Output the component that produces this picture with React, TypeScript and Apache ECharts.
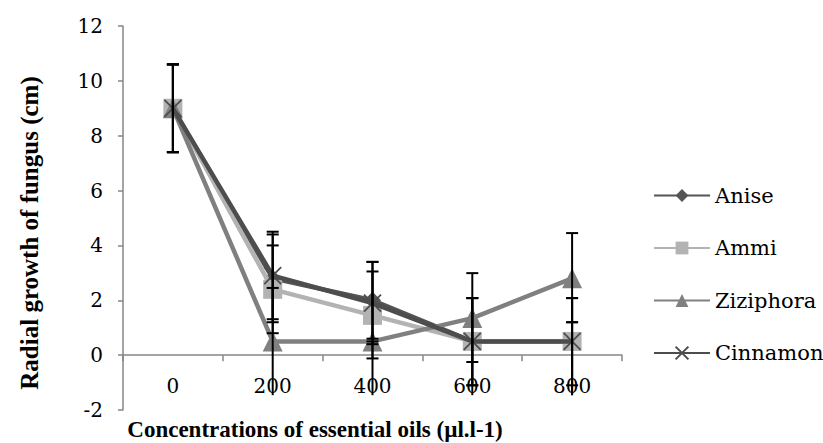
import React, { useEffect, useRef } from "react";
import * as echarts from "echarts";

const categories = ["0", "200", "400", "600", "800"];
const seriesNames = ["Anise", "Ammi", "Ziziphora", "Cinnamon"];
const anise = [9, 2.8, 2.0, 0.5, 0.5];
const ammi = [9, 2.4, 1.45, 0.5, 0.5];
const ziziphora = [9, 0.5, 0.5, 1.35, 2.8];
const cinnamon = [9, 2.9, 1.9, 0.5, 0.5];
// error bar ends [low, high] per point
const aniseErr = [[7.4, 10.6], [1.2, 4.4], [0.6, 3.4], [-1.1, 2.08], [-1.1, 2.08]];
const ammiErr = [[7.4, 10.6], [0.8, 4.0], [-0.12, 3.05], [-1.46, 2.08], [-1.46, 1.2]];
const ziziphoraErr = [[7.4, 10.6], [-1.46, 2.45], [-1.46, 0.5], [-0.25, 2.99], [1.2, 4.45]];
const cinnamonErr = [[7.4, 10.6], [1.31, 4.5], [0.4, 3.4], [-1.1, 2.08], [-1.46, 2.08]];
const yTicks = { min: -2, max: 12, interval: 2 };

const FONT = "DejaVu Serif";

export default function App() {
  const ref = useRef<HTMLDivElement>(null);
  useEffect(() => {
    document.body.style.margin = "0";
    const chart = echarts.init(ref.current!, null, { renderer: "svg" });
    const values = [anise, ammi, ziziphora, cinnamon];
    const errs = [aniseErr, ammiErr, ziziphoraErr, cinnamonErr];
    const lineColors = ["#555555", "#b3b3b3", "#808080", "#4d4d4d"];
    const symbols = ["diamond", "rect", "triangle", "path://M0,0L10,10M10,0L0,10"];
    const sizes = [17, 19, 20, 17];
    const errData: number[][] = [];
    errs.forEach((arr) => arr.forEach((e, i) => errData.push([i, e[0], e[1]])));

    const lineSeries = values.map((v, k) => ({
      name: seriesNames[k],
      type: "line",
      data: v,
      symbol: symbols[k],
      symbolSize: sizes[k],
      z: 2 + k,
      lineStyle: { color: lineColors[k], width: 4.5 },
      itemStyle:
        k === 3
          ? { color: "rgba(0,0,0,0)", borderColor: "#4d4d4d", borderWidth: 1.8 }
          : { color: lineColors[k], borderWidth: 0 },
      emphasis: { disabled: true },
    }));

    chart.setOption({
      animation: false,
      textStyle: { fontFamily: FONT },
      grid: { left: 123, top: 26, width: 499, height: 384, containLabel: false },
      legend: {
        orient: "vertical",
        left: 648,
        top: 180,
        itemWidth: 56,
        itemHeight: 16,
        itemGap: 31.5,
        textStyle: { fontFamily: FONT, fontSize: 21, color: "#000" },
        data: seriesNames,
      },
      xAxis: {
        type: "category",
        data: categories,
        boundaryGap: true,
        axisLine: { onZero: true, lineStyle: { color: "#868686", width: 1.5 } },
        axisTick: { show: true, length: 6, lineStyle: { color: "#868686", width: 1.5 } },
        axisLabel: { fontFamily: FONT, fontSize: 20, color: "#000", margin: -34 },
        splitLine: { show: false },
      },
      yAxis: {
        type: "value",
        min: yTicks.min,
        max: yTicks.max,
        interval: yTicks.interval,
        axisLine: { show: true, lineStyle: { color: "#868686", width: 1.5 } },
        axisTick: { show: true, length: 5, lineStyle: { color: "#868686", width: 1.5 } },
        axisLabel: { fontFamily: FONT, fontSize: 20, color: "#000", margin: 20 },
        splitLine: { show: false },
      },
      graphic: [
        {
          type: "text",
          x: 29,
          y: 233,
          rotation: Math.PI / 2,
          style: {
            text: "Radial growth of fungus (cm)",
            font: `bold 25px 'Liberation Serif'`,
            fill: "#000",
            align: "center",
            verticalAlign: "middle",
          },
        },
        {
          type: "text",
          x: 315,
          y: 429,
          style: {
            text: "Concentrations of essential oils (µl.l-1)",
            font: `bold 23px 'Liberation Serif'`,
            fill: "#000",
            align: "center",
            verticalAlign: "middle",
          },
        },
      ],
      series: [
        ...lineSeries,
        {
          type: "custom",
          name: "errors",
          z: 10,
          silent: true,
          data: errData,
          renderItem: (params: any, api: any) => {
            const x = api.value(0);
            const lo = api.coord([x, api.value(1)]);
            const hi = api.coord([x, api.value(2)]);
            const cw = 6;
            const style = { stroke: "#000", lineWidth: 2 };
            const children: any[] = [
              { type: "line", shape: { x1: lo[0], y1: lo[1], x2: hi[0], y2: hi[1] }, style },
              { type: "line", shape: { x1: hi[0] - cw, y1: hi[1], x2: hi[0] + cw, y2: hi[1] }, style },
            ];
            if (api.value(1) > -1.3) {
              children.push({ type: "line", shape: { x1: lo[0] - cw, y1: lo[1], x2: lo[0] + cw, y2: lo[1] }, style });
            }
            return { type: "group", children };
          },
        },
      ],
    });
    return () => chart.dispose();
  }, []);
  return <div ref={ref} style={{ width: 823, height: 443 }} />;
}
